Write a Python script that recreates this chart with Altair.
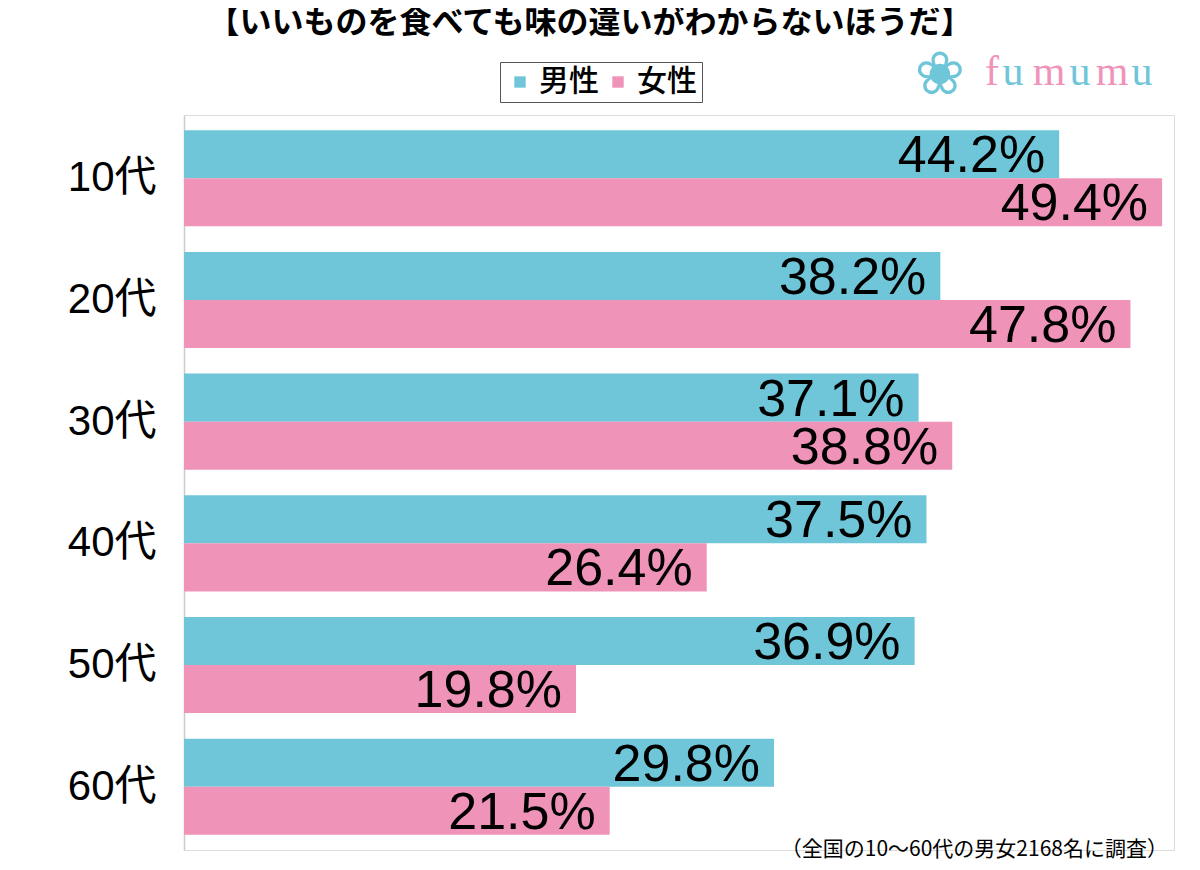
import altair as alt
import pandas as pd

ages = ["10代", "20代", "30代", "40代", "50代", "60代"]
genders = ["男性", "女性"]
male = [44.2, 38.2, 37.1, 37.5, 36.9, 29.8]
female = [49.4, 47.8, 38.8, 26.4, 19.8, 21.5]
colors = ["#70C6D9", "#EF93B9"]

title_text = "【いいものを食べても味の違いがわからないほうだ】"
note_text = "（全国の10～60代の男女2168名に調査）"
logo_letters = ["f", "u", "m", "u", "m", "u"]
logo_colors = ["#EF93B9", "#70C6D9", "#EF93B9", "#70C6D9", "#EF93B9", "#70C6D9"]

rows = []
for a, m, f in zip(ages, male, female):
    rows.append({"age": a, "gender": "男性", "value": m, "label": f"{m:.1f}%"})
    rows.append({"age": a, "gender": "女性", "value": f, "label": f"{f:.1f}%"})
df = pd.DataFrame(rows)

JP = "Noto Sans CJK JP"
MIX = "Liberation Sans, Noto Sans CJK JP"

y_enc = alt.Y(
    "age:N", sort=ages,
    scale=alt.Scale(paddingInner=0.21, paddingOuter=0.125),
    axis=alt.Axis(title=None, ticks=False, domainColor="#cccccc", domainWidth=1.5,
                  labelFontSize=42, labelPadding=28, labelFont=MIX,
                  labelColor="black", grid=False),
)
yoff_enc = alt.YOffset("gender:N", sort=genders, scale=alt.Scale(paddingInner=0, paddingOuter=0))
x_enc = alt.X("value:Q", scale=alt.Scale(domain=[0, 50], nice=False), axis=None)

base = alt.Chart(df)
bars = base.mark_bar().encode(
    y=y_enc, yOffset=yoff_enc, x=x_enc,
    color=alt.Color(
        "gender:N", sort=genders,
        scale=alt.Scale(domain=genders, range=colors),
        legend=alt.Legend(
            title=None, orient="none", legendX=316, legendY=-53,
            direction="horizontal", symbolType="square", symbolSize=130,
            labelFontSize=30, labelFont=JP, labelFontWeight=500, labelColor="black",
            strokeColor="#555555", fillColor="white", padding=5, columnPadding=4,
            labelOffset=4, symbolStrokeWidth=0, labelLimit=0, symbolOpacity=1,
        ),
    ),
)
labels = base.mark_text(align="right", baseline="middle", dx=-14, dy=2,
                        fontSize=52, font="Liberation Sans", color="black").encode(
    y=alt.Y("age:N", sort=ages), yOffset=alt.YOffset("gender:N", sort=genders),
    x=alt.X("value:Q"), text="label:N"
)

title = alt.Chart(pd.DataFrame({"t": [title_text]})).mark_text(
    fontSize=32, fontWeight="bold", font=JP, color="black", align="center", baseline="middle"
).encode(x=alt.value(590 - 184), y=alt.value(23 - 115), text="t:N")

note = alt.Chart(pd.DataFrame({"t": [note_text]})).mark_text(
    fontSize=21, font=JP, color="black", align="right", baseline="middle"
).encode(x=alt.value(1168 - 184), y=alt.value(850 - 115), text="t:N")

flower = alt.Chart(pd.DataFrame({"t": ["❀"]})).mark_text(
    fontSize=60, font="DejaVu Sans", color="#70C6D9", align="center", baseline="middle"
).encode(x=alt.value(940 - 184), y=alt.value(76 - 115), text="t:N")

logo_x = [992, 1013, 1049, 1080, 1112, 1142]
logo_layers = []
for ch, col, lx in zip(logo_letters, logo_colors, logo_x):
    logo_layers.append(
        alt.Chart(pd.DataFrame({"t": [ch]})).mark_text(
            fontSize=42, font="Liberation Serif", color=col, align="center", baseline="middle"
        ).encode(x=alt.value(lx - 184), y=alt.value(72 - 115), text="t:N")
    )

chart = alt.layer(bars, labels, title, note, flower, *logo_layers).properties(
    width=990, height=735,
    autosize=alt.AutoSizeParams(type="none"),
    padding={"left": 176, "top": 107, "right": 10, "bottom": 12},
).configure_view(stroke=None).configure(background="white")

chart.save("out.html", embed_options={"renderer": "svg", "actions": False})
